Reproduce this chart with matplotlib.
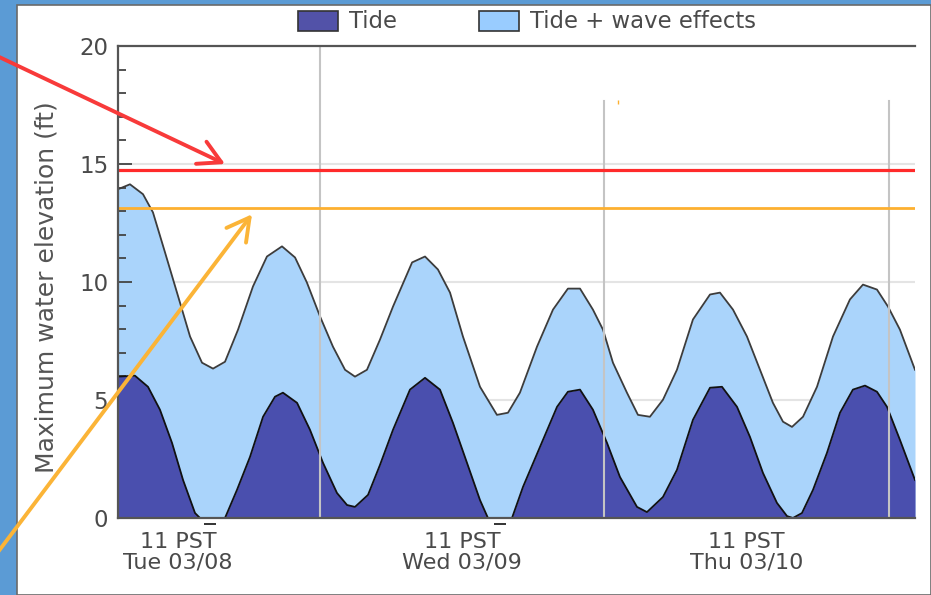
import matplotlib
matplotlib.use("Agg")
import matplotlib.pyplot as plt
from matplotlib.patches import Patch, Rectangle
from matplotlib.transforms import blended_transform_factory

# -- data: hours since 03/08 00:00 PST, elevation in ft --------
wave_h = [6.95, 7.96, 9.06, 9.90, 10.92, 11.93, 13.03, 14.04, 14.97, 15.98,
          17.08, 18.34, 19.52, 20.79, 21.89, 22.89, 24.00, 25.09, 26.11, 26.95,
          27.96, 29.06, 30.16, 31.77, 32.86, 33.95, 34.97, 36.06, 37.50, 38.93,
          39.86, 40.87, 42.31, 43.66, 44.92, 45.94, 47.03, 47.88, 48.72, 49.90,
          50.83, 51.84, 52.94, 54.12, 55.47, 56.91, 57.75, 58.85, 60.03, 61.13,
          62.22, 63.07, 63.83, 64.76, 65.94, 67.29, 68.72, 69.82, 71.00, 71.93,
          72.94, 74.21]
wave_ft = [13.93, 14.14, 13.72, 12.95, 11.25, 9.55, 7.69, 6.58, 6.33, 6.62,
           7.98, 9.81, 11.08, 11.51, 11.04, 9.98, 8.54, 7.26, 6.28, 5.99,
           6.28, 7.56, 8.96, 10.83, 11.08, 10.53, 9.55, 7.69, 5.56, 4.37,
           4.46, 5.31, 7.26, 8.83, 9.72, 9.72, 8.83, 7.98, 6.58, 5.31,
           4.37, 4.29, 5.01, 6.28, 8.41, 9.47, 9.55, 8.83, 7.69, 6.28,
           4.88, 4.08, 3.86, 4.29, 5.56, 7.69, 9.26, 9.89, 9.68, 8.96,
           7.98, 6.28]

tide_h = [6.95, 8.38, 9.48, 10.49, 11.51, 12.44, 13.45, 13.87, 15.98, 16.99,
          18.09, 19.19, 20.20, 20.87, 22.06, 23.15, 24.25, 25.43, 26.28, 26.95,
          28.05, 29.06, 30.16, 31.59, 32.86, 34.12, 35.22, 36.40, 37.50, 38.17,
          40.20, 41.13, 42.56, 44.00, 44.92, 45.94, 47.03, 48.22, 49.31, 50.75,
          51.59, 52.94, 54.12, 55.47, 56.91, 57.92, 59.19, 60.28, 61.38, 62.56,
          63.41, 63.91, 64.67, 65.60, 66.78, 67.88, 68.97, 69.99, 71.00, 71.85,
          72.94, 74.21]
tide_ft = [5.99, 6.03, 5.56, 4.59, 3.18, 1.61, 0.21, 0.0, 0.0, 1.19,
           2.59, 4.29, 5.14, 5.31, 4.88, 3.74, 2.34, 1.06, 0.55, 0.47,
           0.98, 2.25, 3.74, 5.44, 5.94, 5.44, 4.03, 2.34, 0.76, 0.0,
           0.0, 1.32, 3.01, 4.71, 5.35, 5.44, 4.59, 3.18, 1.74, 0.47,
           0.25, 0.89, 2.04, 4.16, 5.52, 5.56, 4.71, 3.44, 1.91, 0.64,
           0.08, 0.0, 0.21, 1.19, 2.76, 4.46, 5.44, 5.61, 5.35, 4.71,
           3.31, 1.61]

flood_level = 14.73      # red line
warn_level = 13.15       # orange line
midnights = [24, 48, 72]
tick_hours = [12, 36, 60]
tick_labels = ["11 PST\nTue 03/08", "11 PST\nWed 03/09", "11 PST\nThu 03/10"]
overbar_hours = [14.7, 39.2]
stray_h = [49.14]
stray_ft = [17.62]

# -- colours ---------------------
BG_BLUE = "#5b9bd5"
DARK = "#4a4fae"
LIGHT = "#aad4fb"
TXT = "#4a4a4a"

fig = plt.figure(figsize=(9.31, 5.95), dpi=100, facecolor=BG_BLUE)
fig.patches.append(Rectangle((17 / 931, 0), 1 - 17 / 931, 1 - 5 / 595,
                             transform=fig.transFigure, facecolor="white",
                             edgecolor="#6a6a6a", linewidth=1.2, zorder=-5))

ax = fig.add_axes([118 / 931, 1 - 518 / 595, (915 - 118) / 931, (518 - 46) / 595])
ax.set_facecolor("none")

for g in [5, 10, 15]:
    ax.axhline(g, color="#e4e4e4", lw=1.5, zorder=0)

ax.fill_between(wave_h, 0, wave_ft, color=LIGHT, lw=0, zorder=1)
ax.plot(wave_h, wave_ft, color="#3c3c3c", lw=1.3, zorder=3)
ax.fill_between(tide_h, 0, tide_ft, color=DARK, lw=0, zorder=2)
ax.plot(tide_h, tide_ft, color="#111111", lw=1.3, zorder=3)

ax.axvline(midnights[0], color="#c4c4c4", lw=1.5, zorder=4)
for m in midnights[1:]:
    ax.axvline(m, ymax=0.883, color="#c4c4c4", lw=1.5, zorder=4)

ax.axhline(flood_level, color="#ff2a2a", lw=2.3, zorder=5)
ax.axhline(warn_level, color="#fdb030", lw=2.0, zorder=5)
ax.plot(stray_h, stray_ft, ls="none", marker="|", ms=3, color="#fdb030", zorder=5)

ax.set_xlim(6.95, 74.21)
ax.set_ylim(0, 20)
ax.set_yticks([0, 5, 10, 15, 20])
ax.set_yticks(range(0, 21), minor=True)
ax.set_xticks(tick_hours)
ax.set_xticklabels(tick_labels, linespacing=1.05)
ax.tick_params(axis="y", which="major", direction="in", length=10, width=1.3,
               color="#444444", labelsize=16.5, labelcolor=TXT, pad=7)
ax.tick_params(axis="y", which="minor", direction="in", length=6, width=1.3,
               color="#444444")
ax.tick_params(axis="x", which="major", direction="in", length=7, width=1.3,
               color="#444444", labelsize=16, labelcolor=TXT, pad=10)
ax.tick_params(axis="x", which="minor", length=0)

for s in ["left", "bottom", "top"]:
    ax.spines[s].set_color("#555555")
    ax.spines[s].set_linewidth(1.6)
    ax.spines[s].set_zorder(6)
ax.spines["right"].set_visible(False)

ax.set_ylabel("Maximum water elevation (ft)", fontsize=18, color="#555555", labelpad=12)
ax.yaxis.set_label_coords(-0.075, 0.49)

# small dashes just under the axis
trans = blended_transform_factory(ax.transData, ax.transAxes)
ax.plot(overbar_hours, [-0.013] * len(overbar_hours), transform=trans, ls="none",
        marker="_", ms=9, mew=1.4, color="#333333", clip_on=False)

handles = [Patch(facecolor="#5252a8", edgecolor="#333333", lw=1.2, label="Tide"),
           Patch(facecolor="#99ccff", edgecolor="#333333", lw=1.2, label="Tide + wave effects")]
leg = fig.legend(handles=handles, loc="center", bbox_to_anchor=(527 / 931, 1 - 22 / 595),
                 ncol=2, frameon=False, fontsize=16.4, handlelength=1.75, handleheight=1.0,
                 handletextpad=0.5, columnspacing=3.6, borderpad=0)
for t in leg.get_texts():
    t.set_color(TXT)

# arrows pointing at the two threshold lines
ax.annotate("", xy=(15.98, 15.0), xycoords="data", xytext=(-5, 595 - 55),
            textcoords="figure pixels",
            arrowprops=dict(arrowstyle="->,head_length=1.0,head_width=0.55",
                            color="#f83a3a", lw=2.8, mutation_scale=16,
                            shrinkA=0, shrinkB=0),
            annotation_clip=False, zorder=10)
ax.annotate("", xy=(18.26, 12.87), xycoords="data", xytext=(-5, 595 - 556),
            textcoords="figure pixels",
            arrowprops=dict(arrowstyle="->,head_length=1.0,head_width=0.55",
                            color="#fbb437", lw=2.8, mutation_scale=16,
                            shrinkA=0, shrinkB=0),
            annotation_clip=False, zorder=10)

fig.savefig("out.png", dpi=100, facecolor=fig.get_facecolor())
